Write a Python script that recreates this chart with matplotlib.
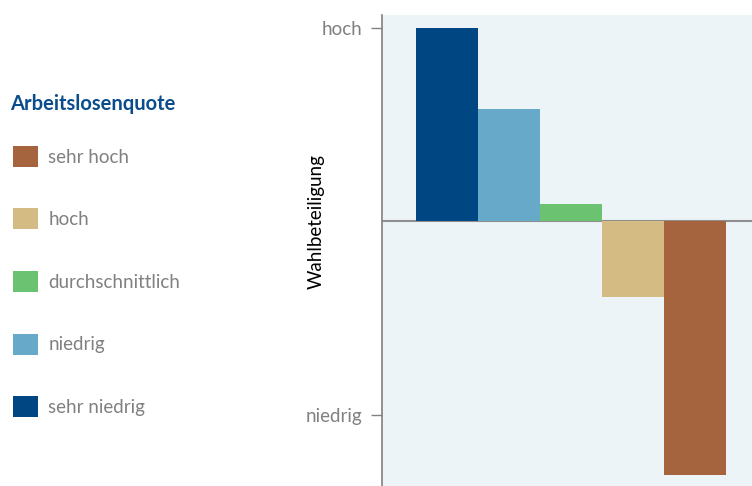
import matplotlib.pyplot as plt
from matplotlib.patches import Patch

plt.rcParams['font.family'] = ['Lato', 'DejaVu Sans']

# Arbeitslosenquote-Gruppen und relative Wahlbeteiligung
kategorien = ['sehr niedrig', 'niedrig', 'durchschnittlich', 'hoch', 'sehr hoch']
werte = [1.0, 0.58, 0.09, -0.39, -1.31]
farben = ['#004682', '#66A9C9', '#6BC270', '#D4BB84', '#A6643E']
tick_werte = [1.0, -1.0]
tick_texte = ['hoch', 'niedrig']

grau = '#808080'
titelblau = '#0B4C8C'
fs = 13.5

fig = plt.figure(figsize=(7.52, 4.86), dpi=100)
ax = fig.add_axes([382 / 752, 0, 370 / 752, 1 - 15 / 486])
ax.set_facecolor('#EDF4F8')

x = list(range(len(kategorien)))
ax.axhline(0, color='#8f8f8f', lw=1.5, zorder=1)
bars = ax.bar(x, werte, width=1.0, color=farben, zorder=2)

ax.set_xlim(-1.048, 4.919)
ax.set_ylim(-1.367, 1.067)
ax.set_xticks([])
ax.set_yticks(tick_werte)
ax.set_yticklabels(tick_texte, fontsize=fs, color=grau)
ax.tick_params(axis='y', length=8, width=1, color=grau, pad=6)
for s in ['top', 'right', 'bottom']:
    ax.spines[s].set_visible(False)
ax.spines['left'].set_color(grau)
ax.spines['left'].set_linewidth(1.2)

fig.text(316 / 752, 1 - 222 / 486, 'Wahlbeteiligung', rotation=90,
         ha='center', va='center', fontsize=fs, color='black')

# Legende: Titel separat, Einträge von "sehr hoch" bis "sehr niedrig"
fig.text(10 / 752, 1 - 104 / 486, 'Arbeitslosenquote', ha='left', va='center',
         fontsize=14.5, fontweight='bold', color=titelblau)
handles = [Patch(facecolor=c, label=k) for k, c in zip(kategorien, farben)][::-1]
leg = fig.legend(handles=handles, loc='upper left', bbox_to_anchor=(-4 / 752, 1 - 129 / 486),
                 frameon=False, fontsize=fs,
                 handlelength=1.33, handleheight=1.33,
                 labelspacing=2.23, handletextpad=0.55)
for t in leg.get_texts():
    t.set_color(grau)

fig.savefig('out.png', dpi=100)
